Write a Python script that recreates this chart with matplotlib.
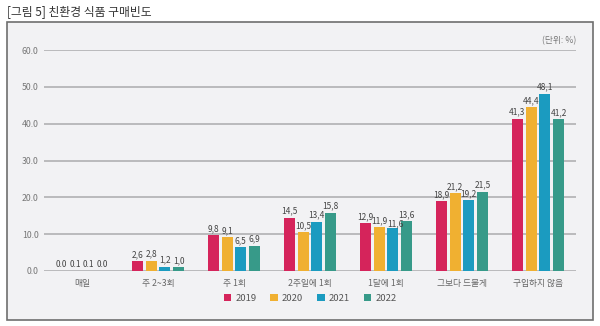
import matplotlib.pyplot as plt
import numpy as np
from matplotlib.patches import Rectangle

plt.rcParams['font.family'] = ['Noto Sans CJK KR', 'DejaVu Sans']

# 데이터
categories = ['매일', '주 2~3회', '주 1회', '2주일에 1회', '1달에 1회', '그보다 드물게', '구입하지 않음']
years = ['2019', '2020', '2021', '2022']
v2019 = [0.0, 2.6, 9.8, 14.5, 12.9, 18.9, 41.3]
v2020 = [0.1, 2.8, 9.1, 10.5, 11.9, 21.2, 44.4]
v2021 = [0.1, 1.2, 6.5, 13.4, 11.6, 19.2, 48.1]
v2022 = [0.0, 1.0, 6.9, 15.8, 13.6, 21.5, 41.2]
series = [v2019, v2020, v2021, v2022]
colors = ['#d5245b', '#f0b031', '#1b9bc0', '#379a89']
yticks = [0, 10, 20, 30, 40, 50, 60]


def main():
    fig = plt.figure(figsize=(6.0, 3.26), dpi=100)
    fig.patch.set_facecolor('white')

    # 회색 패널
    panel = Rectangle((7 / 600, 1 - 320 / 326), 586 / 600, 298 / 326,
                      transform=fig.transFigure, facecolor='#f2f2f4',
                      edgecolor='#6e6e6e', linewidth=1.2, zorder=-5)
    fig.patches.append(panel)

    fig.text(7 / 600, 1 - 13 / 326, '[그림 5] 친환경 식품 구매빈도',
             fontsize=8.5, color='#333333', va='center', ha='left')

    ax = fig.add_axes([44 / 600, 1 - 271 / 326, 532 / 600, 221 / 326])
    ax.set_facecolor('none')

    x = np.arange(len(categories))
    width = 0.145
    step = 0.18
    for i, (vals, col, yr) in enumerate(zip(series, colors, years)):
        pos = x + (i - 1.5) * step
        ax.bar(pos, vals, width=width, color=col, label=yr, zorder=3)
    # 라벨은 막대를 모두 그린 뒤에
    for i, vals in enumerate(series):
        pos = x + (i - 1.5) * step
        for j, (p, v) in enumerate(zip(pos, vals)):
            txt = f'{v:.1f}'
            if j > 0:
                txt = txt.replace('.', ',')
            # 옆 라벨과 높이가 거의 같으면 살짝 오른쪽으로
            dx, dy = 0, 1.5
            if i > 0 and v >= 10 and abs(v - series[i - 1][j]) < 0.5:
                dx, dy = 1.5, 0
            ax.annotate(txt, (p, v), xytext=(dx, dy), textcoords='offset points',
                        ha='center', va='bottom', fontsize=6.0,
                        color='#444444', zorder=5)

    ax.set_xlim(-0.5, len(categories) - 0.5)
    ax.set_ylim(0, 60)
    ax.set_yticks(yticks)
    ax.set_yticklabels([f'{t:.1f}' for t in yticks], fontsize=6.3, color='#777777')
    ax.set_xticks(x)
    ax.set_xticklabels(categories, fontsize=6.3, color='#666666')
    ax.tick_params(axis='both', length=0)
    ax.tick_params(axis='x', pad=6)
    ax.tick_params(axis='y', pad=4)
    for s in ax.spines.values():
        s.set_visible(False)
    ax.grid(True, axis='y', color='#b0b0b3', linewidth=1.2, zorder=1)
    ax.set_axisbelow(True)

    fig.text(576 / 600, 1 - 41 / 326, '(단위: %)', fontsize=6.3, color='#777777',
             ha='right', va='center')

    ax.legend(loc='center', bbox_to_anchor=(0.5, -0.125), ncol=4, frameon=False,
              fontsize=6.8, handlelength=0.8, handleheight=0.8,
              handletextpad=0.4, columnspacing=1.5, labelcolor='#555555')

    fig.savefig('out.png', dpi=100, facecolor='white')


if __name__ == "__main__":
    main()
